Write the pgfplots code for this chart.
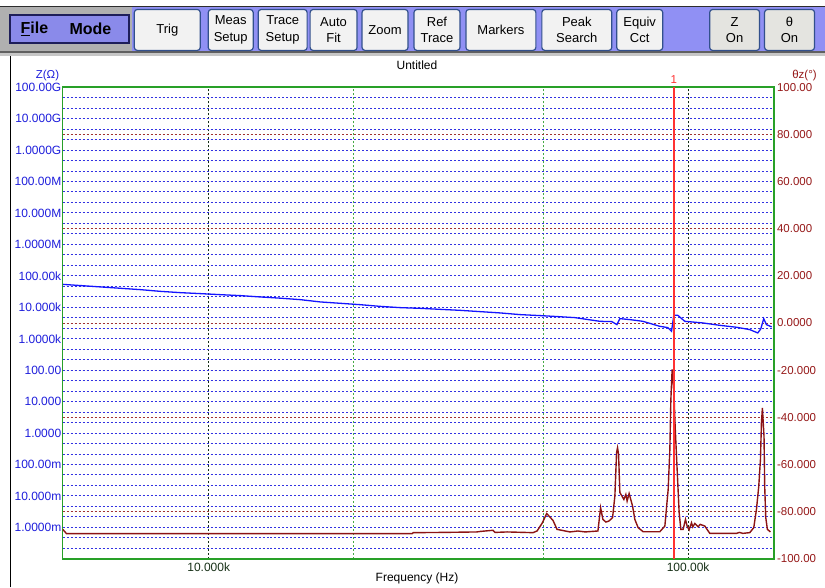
\documentclass[border=0pt]{standalone}
\usepackage{pgfplots}
\pgfplotsset{compat=1.18}
\usepackage{fontspec}
\setmainfont{Liberation Sans}
\definecolor{tbbg}{RGB}{144,144,244}
\definecolor{filebg}{RGB}{138,138,234}
\definecolor{navy}{RGB}{30,30,90}
\definecolor{btnborder}{RGB}{50,80,140}
\definecolor{btnfill}{RGB}{242,242,242}
\definecolor{btnon}{RGB}{228,228,224}
\definecolor{zblue}{RGB}{20,20,255}
\definecolor{zlab}{RGB}{30,30,220}
\definecolor{pred}{RGB}{140,20,20}
\definecolor{plab}{RGB}{150,25,25}
\definecolor{gblue}{RGB}{50,50,225}
\definecolor{gred}{RGB}{160,50,50}
\definecolor{gblack}{RGB}{20,45,20}
\definecolor{ggreen}{RGB}{70,170,70}
\definecolor{framec}{RGB}{40,160,40}
\definecolor{markc}{RGB}{255,50,50}
\definecolor{xlab}{RGB}{25,50,25}
\newcommand\ff[1]{\fontsize{#1}{#1}\selectfont}
\newcommand\btn[4][btnfill]{%
  \draw[rounded corners=3pt, fill=#1, draw=btnborder, line width=1.2pt] (#2,537.5) rectangle (#3,578.5);
  \node[align=center, font=\fontsize{13}{16.5}\selectfont, inner sep=0pt] at ({(#2+#3)/2},558) {#4};}
\pgfplotsset{myaxisbase/.style={at={(62.3pt,28.5pt)}, anchor=south west, scale only axis,
  width=712pt, height=472.2pt, xmin=4960, xmax=151000}}
\begin{document}
\begin{tikzpicture}
\begin{scope}[x=1pt,y=1pt]
\path[fill=white] (0,0) rectangle (825,588);
% toolbar
\fill[tbbg] (0,536) rectangle (825,580.5);
\fill[gray!62] (0,536) rectangle (132,580.5);
\draw[gray!35!black, line width=1pt] (0,581) -- (825,581);
\fill[gray!75!black] (0,534.5) rectangle (825,536.5);
\fill[gray!45] (0,532) rectangle (825,534.5);
\draw[fill=filebg, draw=navy, line width=2pt] (10,545) rectangle (129,573);
\node[font=\ff{16}\bfseries, inner sep=0pt] at (34,559) {\underline{F}ile};
\node[font=\ff{16}\bfseries, inner sep=0pt] at (90,559) {Mode};
\btn{134}{200}{Trig}
\btn{208}{253}{Meas\\Setup}
\btn{258}{307}{Trace\\Setup}
\btn{310}{357}{Auto\\Fit}
\btn{362}{408}{Zoom}
\btn{414}{460}{Ref\\Trace}
\btn{466}{536}{Markers}
\btn{542}{612}{Peak\\Search}
\btn{617}{663}{Equiv\\Cct}
\btn[btnon]{710}{760}{Z\\On}
\btn[btnon]{765}{815}{θ\\On}
\draw[black, line width=1.2pt] (10,0) -- (10,532);
% texts
\node[font=\ff{12}, inner sep=0pt] at (417,523) {Untitled};
\node[font=\ff{12}, inner sep=0pt] at (417,9) {Frequency (Hz)};
\node[font=\ff{11.5}, text=zlab, inner sep=0pt] at (47,512) {Z(Ω)};
\node[font=\ff{11.5}, text=plab, inner sep=0pt] at (805,512) {θz(°)};
\node[font=\ff{11.5}, text=markc, inner sep=0pt] at (674,508) {1};
\end{scope}
% vertical grid
\begin{axis}[myaxisbase, xmode=log, ymin=0, ymax=1, axis line style={draw=none}, tick style={draw=none},
  xtick={10000,100000}, xticklabels={}, ytick=\empty,
  xmajorgrids, major grid style={gblack, line width=1pt, dash pattern=on 2pt off 2pt},
  extra x ticks={20000,50000}, extra x tick labels={},
  extra x tick style={major grid style={ggreen, line width=1pt, dash pattern=on 2pt off 2pt}}]
\addplot[draw=none] coordinates {(10000,0.5)};
\end{axis}
% red phase grid
\begin{axis}[myaxisbase, xmode=log, ymin=-100, ymax=100, axis line style={draw=none}, tick style={draw=none},
  xtick=\empty, ytick={-80,-60,...,100}, yticklabels={},
  ymajorgrids, major grid style={gred, line width=1pt, dash pattern=on 2pt off 2pt}]
\addplot[draw=none] coordinates {(10000,0)};
\end{axis}
% impedance
\begin{axis}[myaxisbase, xmode=log, ymode=log, ymin=1e-4, ymax=1e11, axis line style={draw=none}, tick style={draw=none},
  xtick=\empty,
  ytick={1e-3,1e-2,1e-1,1,10,100,1e3,1e4,1e5,1e6,1e7,1e8,1e9,1e10,1e11},
  yticklabels={1.0000m,10.000m,100.00m,1.0000,10.000,100.00,1.0000k,10.000k,100.00k,1.0000M,10.000M,100.00M,1.0000G,10.000G,100.00G},
  minor ytick={2.1544e-4,4.6416e-4,2.1544e-3,4.6416e-3,2.1544e-2,4.6416e-2,0.21544,0.46416,2.1544,4.6416,21.544,46.416,215.44,464.16,2154.4,4641.6,21544,46416,2.1544e5,4.6416e5,2.1544e6,4.6416e6,2.1544e7,4.6416e7,2.1544e8,4.6416e8,2.1544e9,4.6416e9,2.1544e10,4.6416e10},
  ymajorgrids, yminorgrids,
  major grid style={gblue, line width=1pt, dash pattern=on 2pt off 2pt},
  minor grid style={gblue, line width=1pt, dash pattern=on 2pt off 2pt},
  yticklabel style={text=zlab, font=\ff{12}, inner sep=0pt, anchor=east, xshift=-1.3pt}]
\addplot[zblue, line width=1.3pt] coordinates {
(4960,53600) (5949,44400) (7206,36400) (7932,32100) (8730,29200) (9610,27200)
(10577,25200) (11644,23500) (12812,21300) (14106,19500) (15525,17500) (17088,14800)
(18806,13400) (20703,12100) (22785,10700) (25079,9750) (27606,9260) (30385,8610)
(33443,8000) (36813,7280) (40520,6620) (44605,5850) (49100,5440) (52260,5160)
(58070,4690) (65470,3580) (69340,3500) (71030,2810) (72060,4360) (75590,4060)
(80460,3580) (87310,2480) (90740,2260) (92350,1720) (93370,5560) (95180,5560)
(98420,3580) (107300,3180) (116430,2670) (126330,2310) (134460,1950) (139740,1530)
(141770,2050) (143800,4360) (145650,2810) (149400,2380)};
\end{axis}
% phase
\begin{axis}[myaxisbase, xmode=log, ymin=-100, ymax=100, axis line style={framec, line width=1.5pt}, tick style={draw=none},
  xtick={10000,100000}, xticklabels={10.000k,100.00k},
  ytick={-100,-80,...,100},
  yticklabels={-100.00,-80.000,-60.000,-40.000,-20.000,0.0000,20.000,40.000,60.000,80.000,100.00},
  yticklabel pos=right,
  yticklabel style={text=plab, font=\ff{11.5}, inner sep=0pt, anchor=west, xshift=3pt},
  xticklabel style={text=xlab, font=\ff{12}, inner sep=0pt, anchor=north, yshift=-3.5pt}]
\addplot[pred, line width=1.4pt] coordinates {
(4960,-87.5) (5050,-89.3) (26570,-89.3) (26700,-88.9) (30830,-88.8) (36290,-88.6)
(36813,-88.4) (39185,-87.9) (39560,-88.8) (41905,-88.6) (47480,-88.9) (48400,-88.2)
(49574,-85.0) (50700,-80.8) (52260,-83.7) (53280,-87.5) (56690,-88.6) (58900,-88.2)
(61000,-88.6) (64850,-88.2) (65690,-78.3) (66420,-83.3) (67380,-84.4) (68350,-84.0)
(69580,-82.5) (70350,-73.4) (70920,-55.0) (71260,-52.9) (71610,-55.7) (72060,-71.9)
(72650,-73.1) (73450,-74.8) (74160,-72.7) (74620,-75.5) (75340,-72.3) (76580,-77.6)
(77440,-83.3) (78670,-86.8) (80580,-88.5) (87310,-88.5) (89440,-86.1) (90870,-70.6)
(91610,-53.6) (92050,-32.5) (92620,-19.7) (93370,-28.2) (93960,-43.8) (94870,-62.1)
(95790,-80.4) (96570,-87.5) (97630,-87.5) (98760,-83.3) (99520,-86.1) (100480,-87.7)
(101650,-84.7) (102280,-86.5) (103270,-85.0) (104910,-86.4) (106000,-85.4) (108340,-86.1)
(110970,-89.2) (126150,-89.2) (128000,-88.8) (130000,-89.2) (134460,-88.9) (137080,-86.8)
(138870,-79.0) (140420,-69.2) (141560,-57.8) (142230,-42.3) (142900,-36.0) (143330,-40.9)
(144000,-48.0) (144480,-69.2) (145180,-82.4) (146350,-87.5) (148480,-88.6)};
\addplot[draw={rgb,255:red,255;green,50;blue,50}, line width=1.5pt] coordinates {(93500,-100) (93500,100)};
\end{axis}
\end{tikzpicture}
\end{document}
